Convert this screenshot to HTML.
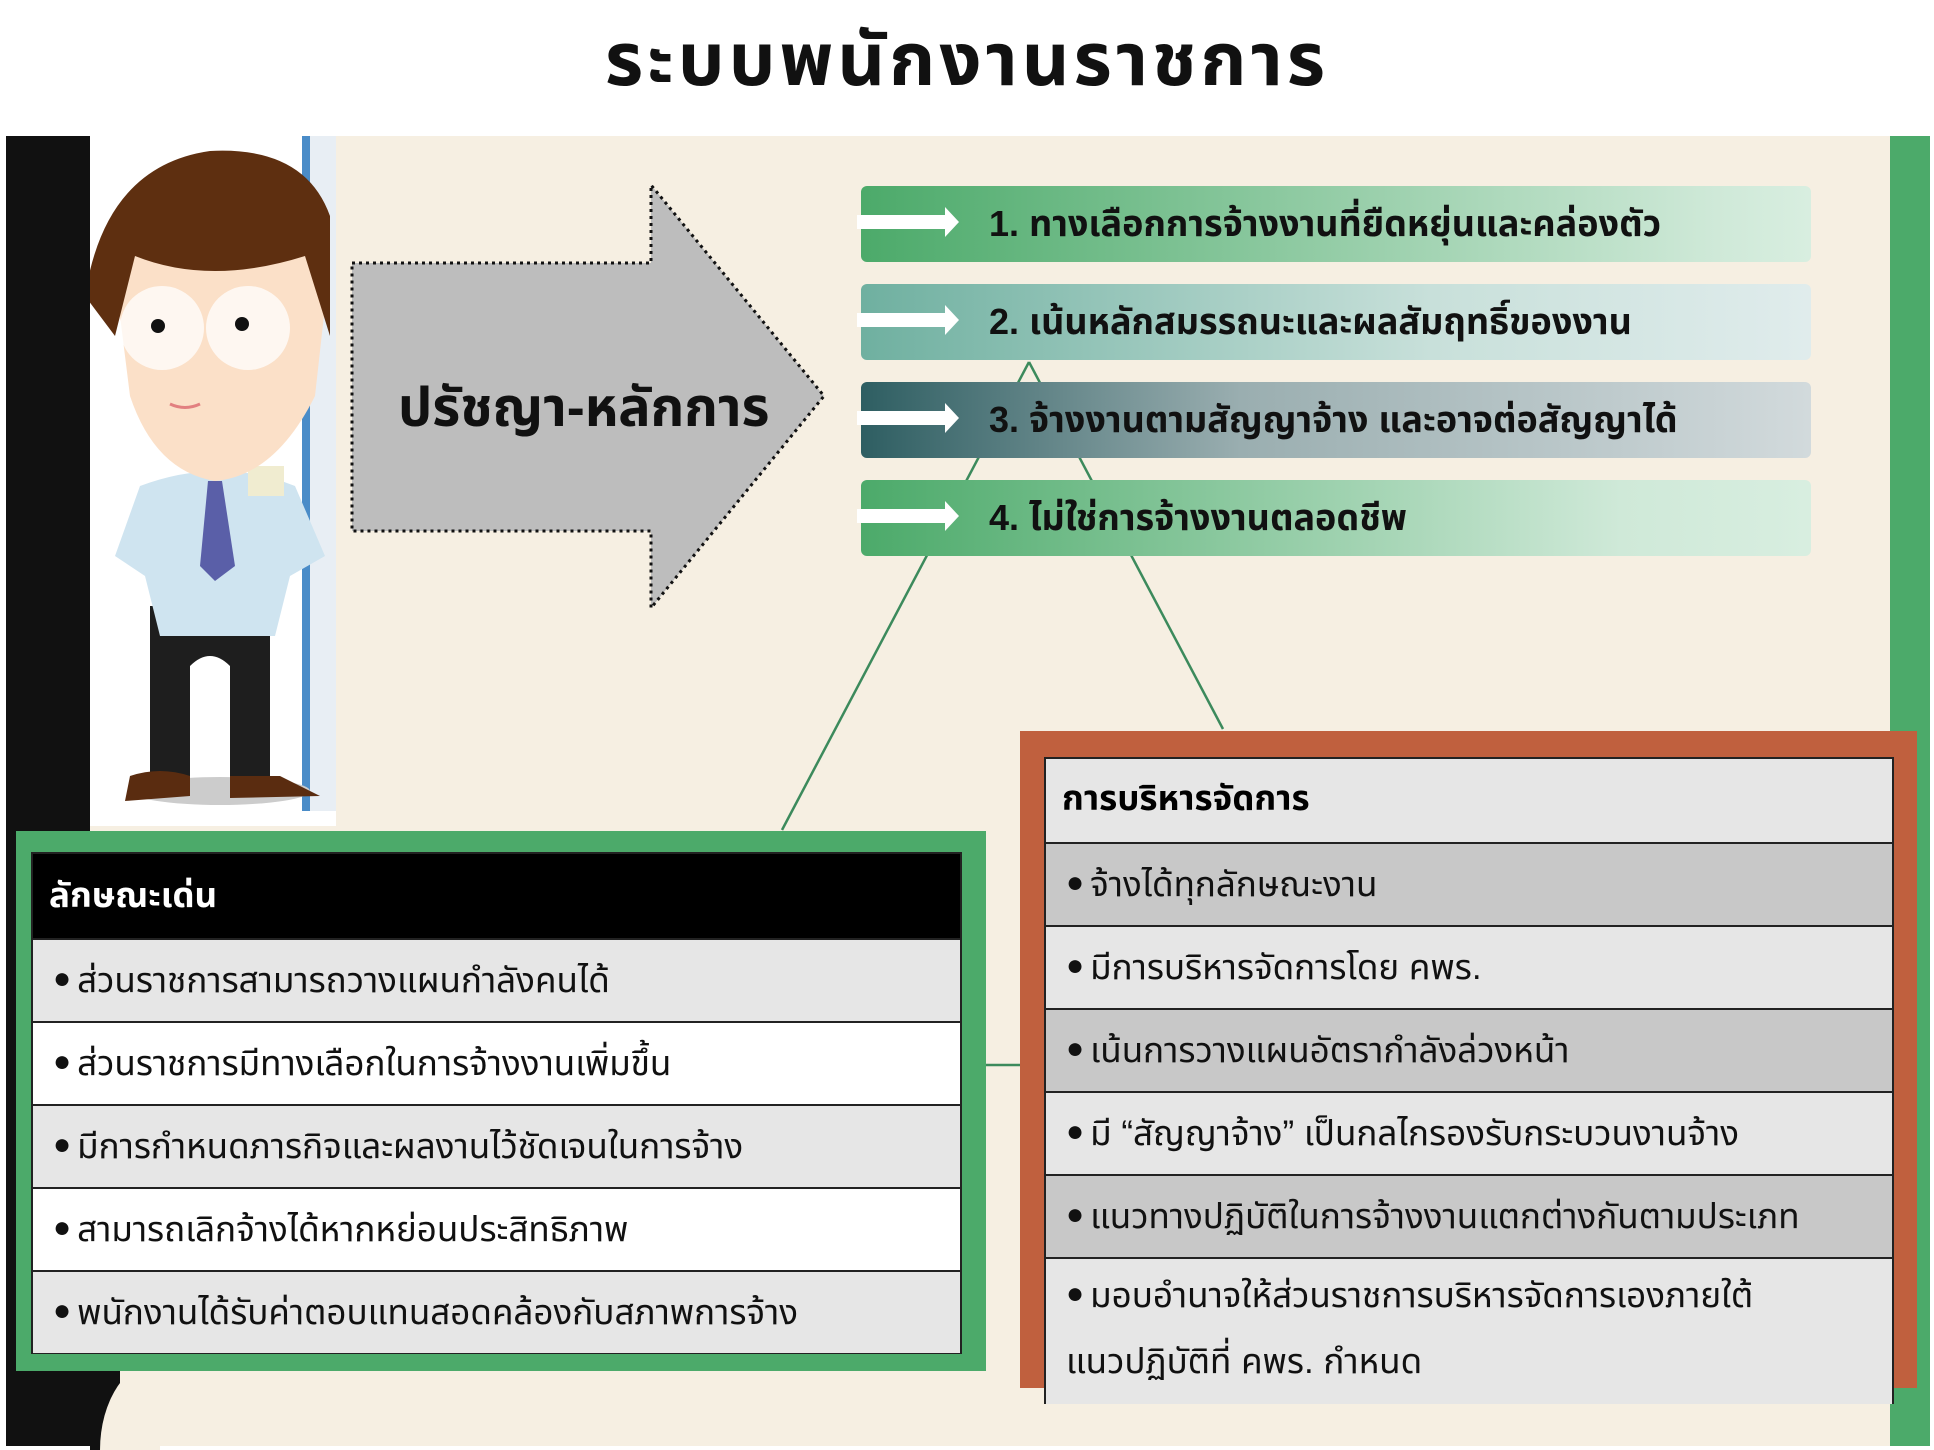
<!DOCTYPE html>
<html><head><meta charset="utf-8"><style>
*{margin:0;padding:0;box-sizing:border-box}
body{width:1934px;height:1446px;position:relative;overflow:hidden;background:#fff;font-family:"Liberation Sans","Noto Sans Thai","Loma","Garuda",sans-serif}
.a{position:absolute}
.bar{position:absolute;left:861px;width:950px;height:76px;border-radius:6px;font-weight:bold;font-size:36px;line-height:76px;color:#111;padding-left:128px}
.bar .ar{position:absolute;left:-4px;top:29px;width:90px;height:14px;background:#fff}
.bar .ar:after{content:"";position:absolute;right:-12px;top:-8px;border-left:14px solid #fff;border-top:15px solid transparent;border-bottom:15px solid transparent}
.row{position:absolute;left:0;right:0;height:83px;border-top:2px solid #222;font-size:35px;line-height:78px;padding-left:20px;color:#111}
.row b{font-size:30px;vertical-align:4px;margin-right:6px}
.g{background:#e6e6e6}.w{background:#fff}.d{background:#c8c8c8}
</style></head><body>
<div class="a" style="left:0;top:0;width:1934px;height:136px;background:#fff;text-align:center;font-size:74px;font-weight:bold;line-height:120px;letter-spacing:4px;color:#111">ระบบพนักงานราชการ</div>
<div class="a" style="left:6px;top:136px;width:1884px;height:1310px;background:#f6efe2"></div>
<div class="a" style="left:1890px;top:136px;width:40px;height:1310px;background:#4caa6a"></div>
<div class="a" style="left:6px;top:136px;width:84px;height:1310px;background:#111"></div>
<div class="a" style="left:90px;top:1360px;width:30px;height:90px;background:#111"></div>
<div class="a" style="left:100px;top:1360px;width:60px;height:90px;background:#f6efe2;border-top-left-radius:60px 90px"></div>
<!-- person -->
<svg class="a" style="left:90px;top:136px" width="246" height="690" viewBox="0 0 246 690">
<rect width="246" height="690" fill="#fff"/>
<rect x="212" y="0" width="8" height="675" fill="#4a8cc8"/><rect x="220" y="0" width="26" height="675" fill="#e8eef4"/>
<ellipse cx="130" cy="655" rx="90" ry="14" fill="#ccc"/>
<path d="M60 470 L60 650 L100 650 L100 530 Q120 510 140 530 L140 650 L180 650 L180 470Z" fill="#1e1e1e"/>
<path d="M40 640 Q70 630 100 640 L100 660 L35 665Z M140 640 L190 640 L230 660 L140 662Z" fill="#5a2c10"/>
<path d="M50 350 Q130 320 205 350 L235 420 L200 440 L185 500 L70 500 L55 440 L25 420Z" fill="#cfe4f0"/>
<path d="M118 345 L132 345 L145 430 L125 445 L110 430Z" fill="#5a5fa8"/>
<rect x="158" y="330" width="36" height="30" fill="#f0ecd0"/>
<path d="M30 180 Q25 60 130 50 Q235 55 235 170 L225 260 Q185 340 125 345 Q65 335 40 260Z" fill="#fbe0c8"/>
<path d="M-5 160 Q15 30 120 15 Q215 10 240 80 L240 200 L215 120 Q120 150 45 120 L25 200Z" fill="#5e2f10"/>
<circle cx="72" cy="192" r="42" fill="#fff" opacity=".75"/><circle cx="158" cy="192" r="42" fill="#fff" opacity=".75"/>
<circle cx="68" cy="190" r="7" fill="#111"/><circle cx="152" cy="188" r="7" fill="#111"/>
<path d="M80 268 Q95 275 110 268" stroke="#e28080" stroke-width="3" fill="none"/>
</svg>
<svg class="a" style="left:0;top:0" width="1934" height="1446">
<polygon points="352,263 651,263 651,185 824,396 651,608 651,531 352,531" fill="#bdbdbd" stroke="#111" stroke-width="3" stroke-dasharray="3,4"/>
<g stroke="#3c8a5c" stroke-width="2.5" fill="none">
<line x1="1029" y1="362" x2="782" y2="830"/><line x1="1029" y1="362" x2="1223" y2="729"/>
<line x1="986" y1="1065" x2="1020" y2="1065"/></g>
</svg>
<div class="a" style="left:398px;top:370px;font-size:54px;font-weight:bold;color:#111">ปรัชญา-หลักการ</div>
<div class="bar" style="top:186px;background:linear-gradient(90deg,#4caa6a,#cfe9d8 90%,#d8eee0)"><div class="ar"></div>1. ทางเลือกการจ้างงานที่ยืดหยุ่นและคล่องตัว</div>
<div class="bar" style="top:284px;background:linear-gradient(90deg,#6fb0a0,#c8e0da 60%,#e0ecec)"><div class="ar"></div>2. เน้นหลักสมรรถนะและผลสัมฤทธิ์ของงาน</div>
<div class="bar" style="top:382px;background:linear-gradient(90deg,#2e5e62,#9aaeb0 40%,#d2dadc)"><div class="ar"></div>3. จ้างงานตามสัญญาจ้าง และอาจต่อสัญญาได้</div>
<div class="bar" style="top:480px;background:linear-gradient(90deg,#4caa6a,#cfe9d8 80%,#d8eee0)"><div class="ar"></div>4. ไม่ใช่การจ้างงานตลอดชีพ</div>
<div class="a" style="left:16px;top:831px;width:970px;height:540px;background:#4caa6a"></div>
<div class="a" style="left:31px;top:852px;width:931px;height:502px;border:2px solid #222;background:#fff">
<div class="a" style="left:0;top:0;right:0;height:84px;background:#000;color:#fff;font-weight:bold;font-size:35px;line-height:84px;padding-left:16px">ลักษณะเด่น</div>
<div class="row g" style="top:84px"><b>●</b>ส่วนราชการสามารถวางแผนกำลังคนได้</div>
<div class="row w" style="top:167px"><b>●</b>ส่วนราชการมีทางเลือกในการจ้างงานเพิ่มขึ้น</div>
<div class="row g" style="top:250px"><b>●</b>มีการกำหนดภารกิจและผลงานไว้ชัดเจนในการจ้าง</div>
<div class="row w" style="top:333px"><b>●</b>สามารถเลิกจ้างได้หากหย่อนประสิทธิภาพ</div>
<div class="row g" style="top:416px"><b>●</b>พนักงานได้รับค่าตอบแทนสอดคล้องกับสภาพการจ้าง</div>
</div>
<div class="a" style="left:1020px;top:731px;width:897px;height:657px;background:#c0603e"></div>
<div class="a" style="left:1044px;top:757px;width:850px;height:647px;border:2px solid #222;background:#e6e6e6">
<div class="a" style="left:0;top:0;right:0;height:83px;font-weight:bold;font-size:35px;line-height:80px;padding-left:16px">การบริหารจัดการ</div>
<div class="row d" style="top:83px"><b>●</b>จ้างได้ทุกลักษณะงาน</div>
<div class="row g" style="top:166px"><b>●</b>มีการบริหารจัดการโดย คพร.</div>
<div class="row d" style="top:249px"><b>●</b>เน้นการวางแผนอัตรากำลังล่วงหน้า</div>
<div class="row g" style="top:332px"><b>●</b>มี “สัญญาจ้าง” เป็นกลไกรองรับกระบวนงานจ้าง</div>
<div class="row d" style="top:415px"><b>●</b>แนวทางปฏิบัติในการจ้างงานแตกต่างกันตามประเภท</div>
<div class="row g" style="top:498px;height:147px;line-height:66px;padding-top:2px"><b>●</b>มอบอำนาจให้ส่วนราชการบริหารจัดการเองภายใต้<br>แนวปฏิบัติที่ คพร. กำหนด</div>
</div>
</body></html>
